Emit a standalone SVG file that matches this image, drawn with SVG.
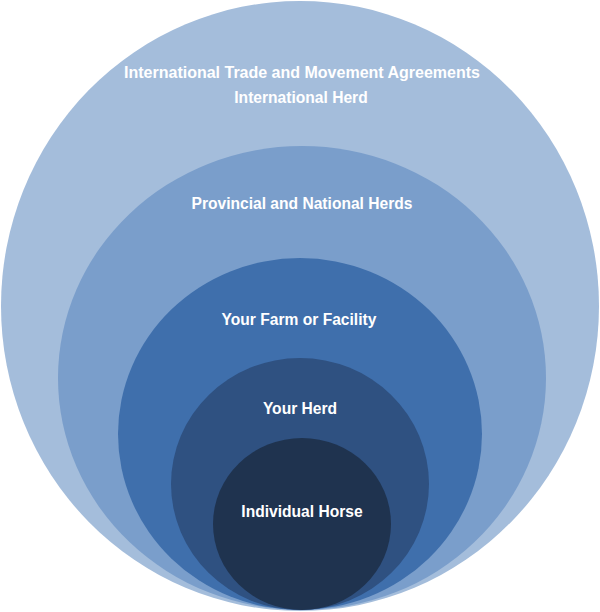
<svg xmlns="http://www.w3.org/2000/svg" width="600" height="612" viewBox="0 0 600 612">
<style>
text{font-family:"Liberation Sans",Arial,sans-serif;font-weight:bold;font-size:15.6px;fill:#FFFFFF;text-anchor:middle}
</style>
<rect width="600" height="612" fill="#FFFFFF"/>
<g id="international">
<ellipse cx="300" cy="306" rx="299" ry="305" fill="#A4BDDB"/>
<text x="302" y="78" style="font-size:16px">International Trade and Movement Agreements</text>
<text x="301" y="103">International Herd</text>
</g>
<g id="provincial">
<ellipse cx="302" cy="378" rx="244" ry="232" fill="#7A9ECB"/>
<text x="302" y="209">Provincial and National Herds</text>
</g>
<g id="farm">
<ellipse cx="300" cy="434" rx="182" ry="176" fill="#3F6FAC"/>
<text x="299" y="325">Your Farm or Facility</text>
</g>
<g id="herd">
<ellipse cx="300" cy="484" rx="129" ry="126" fill="#2F5181"/>
<text x="300" y="414">Your Herd</text>
</g>
<g id="horse">
<ellipse cx="302" cy="524" rx="89" ry="86" fill="#1F334F"/>
<text x="302" y="517">Individual Horse</text>
</g>
<g id="connectors"/>
</svg>
